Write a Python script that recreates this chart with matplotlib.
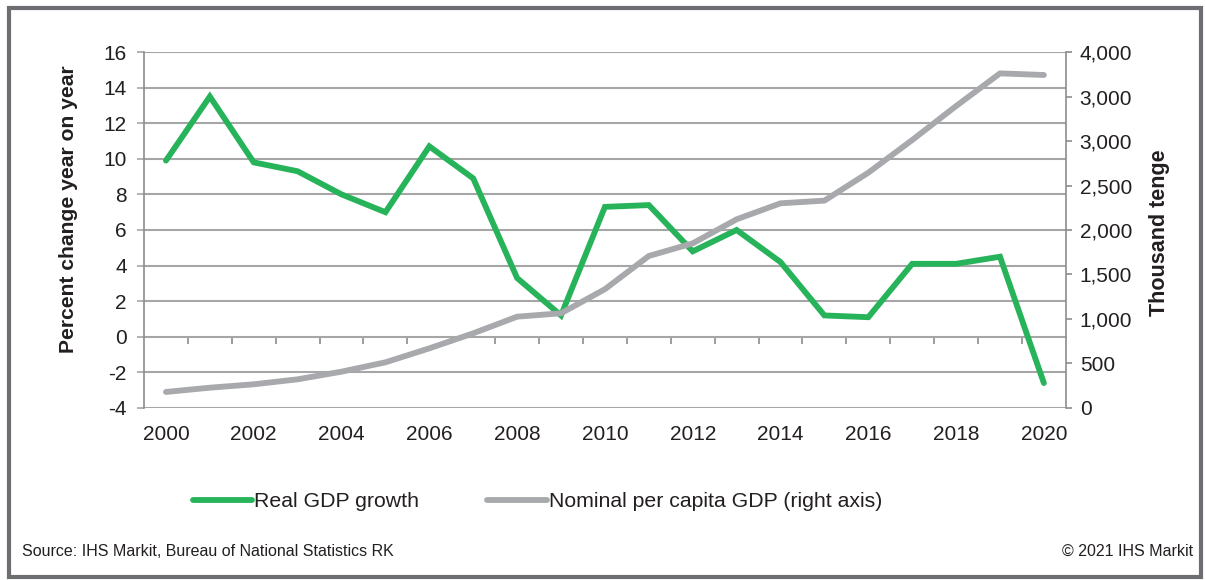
import numpy as np
import matplotlib.pyplot as plt
from matplotlib.patches import Rectangle
from matplotlib.ticker import FixedLocator, FixedFormatter

plt.rcParams['font.family'] = ['Liberation Sans', 'DejaVu Sans']

# Data
years = list(range(2000, 2021))
real_gdp_growth = [9.9, 13.5, 9.8, 9.3, 8.0, 7.0, 10.7, 8.9, 3.3, 1.2, 7.3,
                   7.4, 4.8, 6.0, 4.2, 1.2, 1.1, 4.1, 4.1, 4.5, -2.6]
nominal_gdp_pc = [180, 228, 266, 322, 408, 513, 670, 839, 1026, 1064, 1335,
                  1708, 1850, 2120, 2300, 2330, 2644, 3011, 3393, 3760, 3742]
year_labels = [str(y) for y in range(2000, 2021, 2)]
left_ticks = list(range(-4, 17, 2))
right_ticks = list(range(0, 4001, 500))
# labels exactly as printed in the source (3,500 shows as 3,000)
right_labels = ['0', '500', '1,000', '1,500', '2,000', '2,500', '3,000', '3,000', '4,000']

green = '#27b35a'
grey_line = '#a7a9ac'
grid_c = '#a6a6a6'
axis_c = '#8c8c8c'
text_c = '#231f20'
fs = 15

fig = plt.figure(figsize=(12.05, 5.8), dpi=100)
ax = fig.add_axes([0.1195, 0.2966, 0.765, 0.6137])
ax2 = ax.twinx()

ax.plot(years, real_gdp_growth, color=green, lw=4.2, solid_joinstyle='miter',
        solid_capstyle='round', zorder=3, label='Real GDP growth')
ax2.plot(years, nominal_gdp_pc, color=grey_line, lw=4.2, solid_joinstyle='miter',
         solid_capstyle='round', zorder=3, label='Nominal per capita GDP (right axis)')

ax.set_xlim(1999.5, 2020.5)
ax.set_ylim(-4, 16)
ax2.set_ylim(0, 4000)

ax.set_yticks(left_ticks)
ax.set_yticklabels([str(v) for v in left_ticks])
ax.grid(axis='y', color=grid_c, lw=1.5)
ax.set_axisbelow(True)

ax.xaxis.set_major_locator(FixedLocator(range(2000, 2021, 2)))
ax.xaxis.set_major_formatter(FixedFormatter(year_labels))
ax.tick_params(axis='x', length=0, pad=12.5, labelsize=fs, labelcolor=text_c)
ax.tick_params(axis='y', length=5, color=grid_c, width=1.2, pad=7.5,
               labelsize=fs, labelcolor=text_c)

ax2.yaxis.set_major_locator(FixedLocator(right_ticks))
ax2.yaxis.set_major_formatter(FixedFormatter(right_labels))
ax2.tick_params(axis='y', length=4.5, color=axis_c, width=1.2, pad=5.5,
                labelsize=fs, labelcolor=text_c)

for a in (ax, ax2):
    for s in ('top', 'bottom'):
        a.spines[s].set_visible(False)
ax.spines['right'].set_visible(False)
ax.spines['left'].set_color(axis_c)
ax.spines['left'].set_linewidth(1.2)
ax2.spines['left'].set_visible(False)
ax2.spines['right'].set_color(axis_c)
ax2.spines['right'].set_linewidth(1.2)

# zero line with category boundary ticks
sec = ax.secondary_xaxis(0.2)
sec.set_xticks(np.arange(2000.5, 2020, 1))
sec.set_xticklabels([])
sec.tick_params(axis='x', length=5, width=1.2, color=axis_c, direction='out')
sec.spines['bottom'].set_color(axis_c)
sec.spines['bottom'].set_linewidth(1.2)

fig.text(0.057, 0.640, 'Percent change year on year', rotation=90, ha='center',
         va='center', fontsize=15.2, fontweight='bold', color=text_c)
fig.text(0.962, 0.598, 'Thousand tenge', rotation=90, ha='center', va='center',
         fontsize=15.5, fontweight='bold', color=text_c)

h1, l1 = ax.get_legend_handles_labels()
h2, l2 = ax2.get_legend_handles_labels()
fig.legend(h1 + h2, l1 + l2, loc='center', bbox_to_anchor=(0.446, 0.135), ncol=2,
           frameon=False, fontsize=15.3, handlelength=2.8, handletextpad=0.1,
           columnspacing=3.2, labelcolor=text_c)

fig.text(0.018, 0.05, 'Source: IHS Markit, Bureau of National Statistics RK',
         fontsize=11.5, color=text_c, va='center')
fig.text(0.99, 0.05, '\u00a9 2021 IHS Markit', fontsize=11.5, color=text_c,
         va='center', ha='right')

fig.patches.append(Rectangle((0.0075, 0.006), 0.9895, 0.98, transform=fig.transFigure,
                             fill=False, ec='#6d6e71', lw=3))

fig.savefig('out.png', dpi=100)
